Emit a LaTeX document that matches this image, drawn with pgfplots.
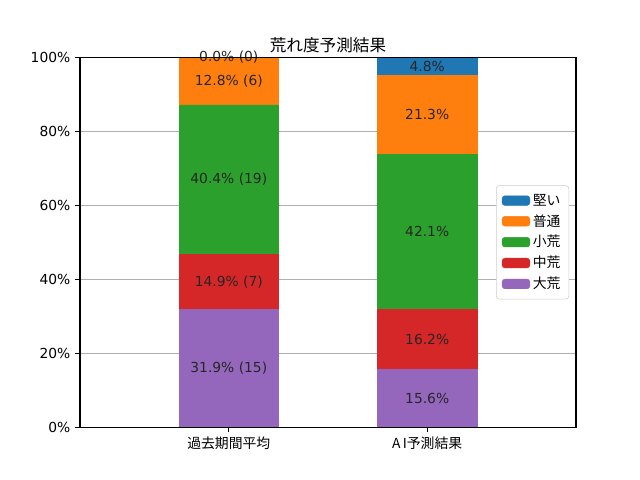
\documentclass[border=0pt]{standalone}
\usepackage{fontspec}
\setmainfont{DejaVu Sans}
\newfontfamily\cjk{Noto Sans CJK JP}
\usepackage{pgfplots}
\pgfplotsset{compat=1.18}
\definecolor{c0}{HTML}{1F77B4}
\definecolor{c1}{HTML}{FF7F0E}
\definecolor{c2}{HTML}{2CA02C}
\definecolor{c3}{HTML}{D62728}
\definecolor{c4}{HTML}{9467BD}
\begin{document}
\begin{tikzpicture}
\begin{axis}[
  name=ax,
  at={(0,0)}, anchor=south west,
  scale only axis, width=4.96in, height=3.696in,
  ybar stacked, bar width=0.5,
  xmin=-0.75, xmax=1.75, ymin=0, ymax=100,
  xtick={0,1}, xticklabels={{\cjk 過去期間平均},{\cjk A\,I予測結果}},
  ytick={0,20,40,60,80,100},
  yticklabels={0\%,20\%,40\%,60\%,80\%,100\%},
  tick align=outside, major tick length=3.5pt,
  xtick pos=bottom, ytick pos=left,
  ymajorgrids, grid style={color=black!31, line width=0.8pt},
  axis line style={line width=0.8pt},
  every tick/.style={black, line width=0.8pt},
  tick label style={font=\fontsize{10pt}{12pt}\selectfont},
  title={\cjk 荒れ度予測結果}, title style={font=\fontsize{12pt}{14pt}\selectfont, yshift=-6pt},
  reverse legend,
  legend style={at={(0.986,0.5)}, anchor=east, draw=black!20, rounded corners=2pt,
    font=\fontsize{10pt}{12pt}\selectfont\cjk, row sep=1.2pt, inner sep=4pt,
    fill=white},
  legend cell align=left,
  legend image code/.code={\fill[#1] (0pt,-3.5pt) rectangle (20pt,3.5pt);},
]
\addplot[fill=c4, draw=c4, line width=0.3pt] coordinates {(0,31.9) (1,15.6)};
\addlegendentry{大荒}
\addplot[fill=c3, draw=c3, line width=0.3pt] coordinates {(0,14.9) (1,16.2)};
\addlegendentry{中荒}
\addplot[fill=c2, draw=c2, line width=0.3pt] coordinates {(0,40.4) (1,42.1)};
\addlegendentry{小荒}
\addplot[fill=c1, draw=c1, line width=0.3pt] coordinates {(0,12.8) (1,21.3)};
\addlegendentry{普通}
\addplot[fill=c0, draw=c0, line width=0.3pt] coordinates {(0,0.0) (1,4.8)};
\addlegendentry{堅い}
\coordinate (a1) at (axis cs:0,15.95);
\coordinate (a2) at (axis cs:0,39.35);
\coordinate (a3) at (axis cs:0,67.0);
\coordinate (a4) at (axis cs:0,93.6);
\coordinate (a5) at (axis cs:0,100);
\coordinate (b1) at (axis cs:1,7.8);
\coordinate (b2) at (axis cs:1,23.7);
\coordinate (b3) at (axis cs:1,52.85);
\coordinate (b4) at (axis cs:1,84.55);
\coordinate (b5) at (axis cs:1,97.6);
\end{axis}
\begin{scope}[every node/.style={font=\fontsize{10pt}{12pt}\selectfont, text=black!85}]
\node at (a1) {31.9\% (15)};
\node at (a2) {14.9\% (7)};
\node at (a3) {40.4\% (19)};
\node at (a4) {12.8\% (6)};
\node at (a5) {0.0\% (0)};
\node at (b1) {15.6\%};
\node at (b2) {16.2\%};
\node at (b3) {42.1\%};
\node at (b4) {21.3\%};
\node at (b5) {4.8\%};
\end{scope}
\draw[line width=0.8pt] (ax.south west) rectangle (ax.north east);
\useasboundingbox (-0.8in,-0.528in) rectangle (5.6in,4.272in);
\end{tikzpicture}
\end{document}
